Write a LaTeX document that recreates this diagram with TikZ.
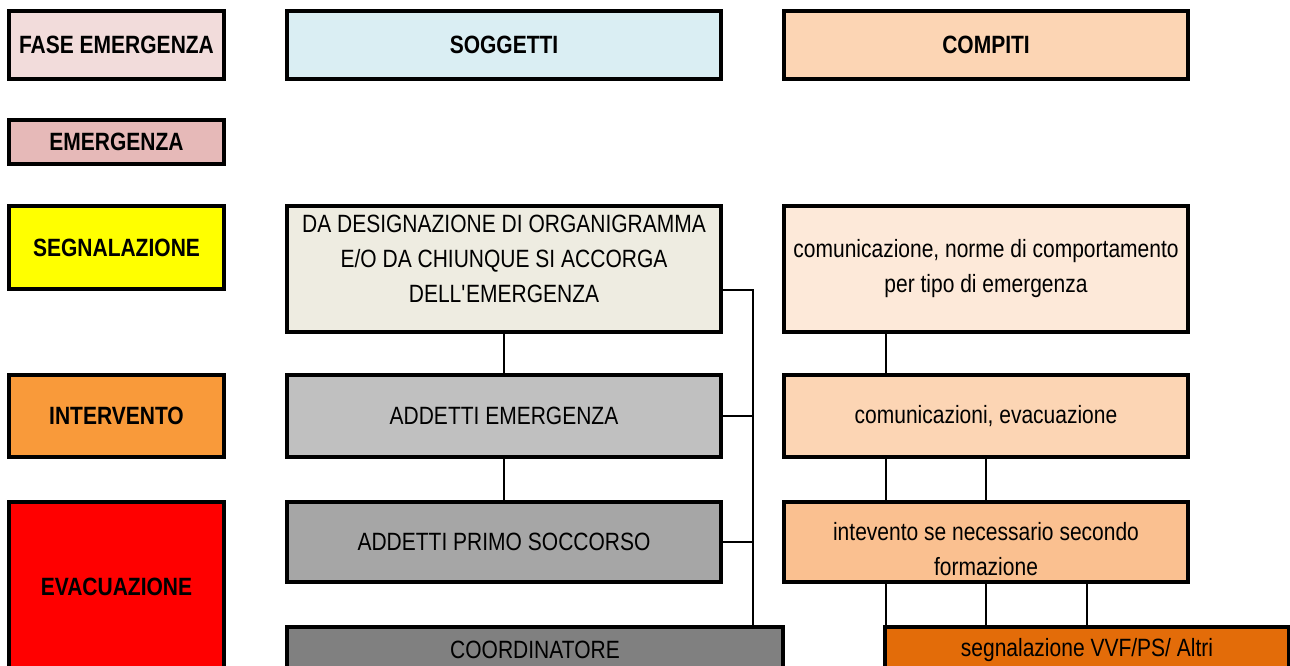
\documentclass[tikz,border=0pt]{standalone}
\usepackage{fontspec}
\setmainfont{Liberation Sans}[FakeStretch=0.84]

\definecolor{faseC}{HTML}{F2DCDB}
\definecolor{emergC}{HTML}{E6B9B8}
\definecolor{segnC}{HTML}{FFFF00}
\definecolor{intC}{HTML}{F99A3A}
\definecolor{evacC}{HTML}{FF0000}
\definecolor{soggC}{HTML}{DAEEF3}
\definecolor{desigC}{HTML}{EEECE1}
\definecolor{addEmC}{HTML}{C0C0C0}
\definecolor{addPSC}{HTML}{A6A6A6}
\definecolor{coordC}{HTML}{808080}
\definecolor{compC}{HTML}{FCD5B4}
\definecolor{comm1C}{HTML}{FDE9D9}
\definecolor{interv3C}{HTML}{FAC090}
\definecolor{vvfC}{HTML}{E36C09}

\tikzset{
  txt/.style={align=center, inner sep=0pt, font=\fontsize{25}{35}\selectfont},
  box/.style={txt, draw, line width=4pt, rectangle},
  phase/.style={box, font=\fontsize{25}{35}\selectfont\bfseries, minimum width=215pt},
  link/.style={line width=1.5pt},
}

\begin{document}
\begin{tikzpicture}[x=1pt, y=-1pt]
  \useasboundingbox (0,0) rectangle (1290,665);
  \clip (0,0) rectangle (1290,665);
  % fasi
  \node[phase, fill=faseC, minimum height=68pt] (fase) at (116.5,45) {FASE EMERGENZA};
  \node[phase, fill=emergC, minimum height=44pt] (emerg) at (116.5,142) {EMERGENZA};
  \node[phase, fill=segnC, minimum height=83pt] (segn) at (116.5,247.5) {SEGNALAZIONE};
  \node[phase, fill=intC, minimum height=82pt] (interv) at (116.5,416) {INTERVENTO};
  \node[phase, fill=evacC, minimum height=170pt] (evac) at (116.5,587) {EVACUAZIONE};
  % soggetti
  \node[box, fill=soggC, minimum width=434pt, minimum height=68pt] (sogg) at (504,45) {\bfseries SOGGETTI};
  \node[box, fill=desigC, minimum width=434pt, minimum height=126pt] (desig) at (504,269) {};
  \node[txt] (desigT) at ([yshift=10pt]desig.center) {DA DESIGNAZIONE DI ORGANIGRAMMA\\E/O DA CHIUNQUE SI ACCORGA\\DELL\textquotesingle EMERGENZA};
  \node[box, fill=addEmC, minimum width=434pt, minimum height=82pt] (addEm) at (504,416) {ADDETTI EMERGENZA};
  \node[box, fill=addPSC, minimum width=434pt, minimum height=80pt] (addPS) at (504,542) {ADDETTI PRIMO SOCCORSO};
  \node[box, fill=coordC, minimum width=496pt, minimum height=46pt] (coord) at (535,650) {COORDINATORE};
  % compiti
  \node[box, fill=compC, minimum width=404pt, minimum height=68pt] (comp) at (986,45) {\bfseries COMPITI};
  \node[box, fill=comm1C, minimum width=404pt, minimum height=126pt] (comm1) at (986,269) {comunicazione, norme di comportamento\\per tipo di emergenza};
  \node[box, fill=compC, minimum width=404pt, minimum height=82pt] (comm2) at (986,416) {comunicazioni, evacuazione};
  \node[box, fill=interv3C, minimum width=404pt, minimum height=80pt] (interv3) at (986,542) {};
  \node[txt] (interv3T) at ([yshift=-7pt]interv3.center) {intevento se necessario secondo\\formazione};
  \node[box, fill=vvfC, minimum width=404pt, minimum height=46pt] (vvf) at (1087,650) {segnalazione VVF/PS/ Altri};
  % collegamenti soggetti
  \coordinate (bus) at (753,290);
  \draw[link] (desig) -- (addEm);
  \draw[link] (addEm) -- (addPS);
  \draw[link] ([yshift=-21pt]desig.east) -- (bus) -- (bus |- coord.north);
  \draw[link] (addEm.east) -- (addEm.east -| bus);
  \draw[link] (addPS.east) -- (addPS.east -| bus);
  % collegamenti compiti
  \coordinate (q1) at (886,0);
  \coordinate (q2) at (986,0);
  \coordinate (q3) at (1087,0);
  \draw[link] (comm1.south -| q1) -- (comm2.north -| q1);
  \foreach \q in {q1,q2}
    \draw[link] (comm2.south -| \q) -- (interv3.north -| \q);
  \foreach \q in {q1,q2,q3}
    \draw[link] (interv3.south -| \q) -- (vvf.north -| \q);
\end{tikzpicture}
\end{document}
